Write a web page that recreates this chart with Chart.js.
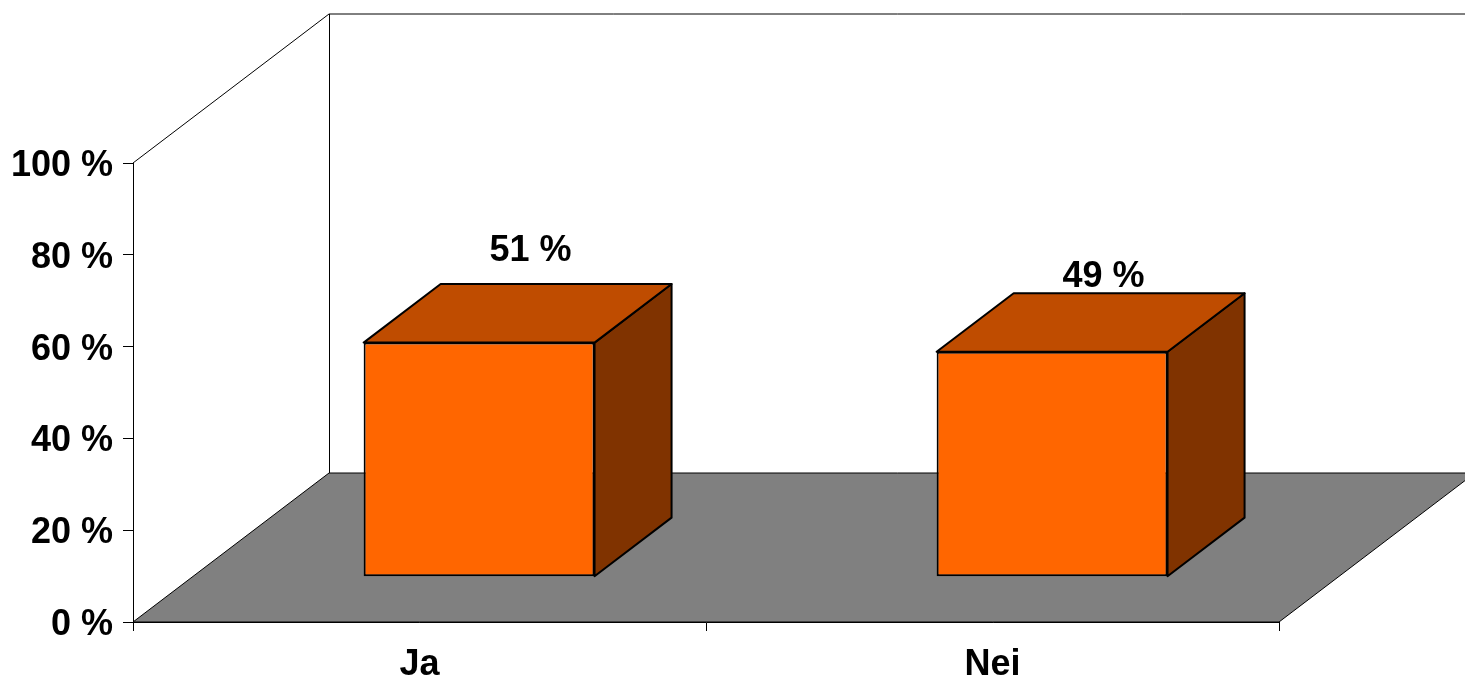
<!DOCTYPE html>
<html>
<head>
<meta charset="utf-8">
<script src="https://cdn.jsdelivr.net/npm/chart.js@4"></script>
<style>
  html, body { margin: 0; padding: 0; background: #fff; }
  canvas { display: block; }
</style>
</head>
<body>
<canvas id="chart" width="1465" height="680"></canvas>
<script>
const categories = ["Ja", "Nei"];
const values = [51, 49];
const tickStep = 20;
const yMax = 100;

// full floor depth in px, and where the bars sit inside it
const DX = 196, DY = -149;
const F0 = 0.304, F1 = 0.697;
const labelLift = [34, 17];

const FONT = { family: "'Liberation Sans', Arial, sans-serif", size: 36, weight: "bold" };

const box3d = {
    id: "box3d",
    beforeDraw(chart) {
        const { ctx, chartArea: a } = chart;
        const y = chart.scales.y;
        const top = y.getPixelForValue(yMax), bot = y.getPixelForValue(0);
        ctx.save();
        ctx.fillStyle = "#fff";
        ctx.fillRect(0, 0, chart.width, chart.height);
        ctx.strokeStyle = "#000";
        ctx.lineWidth = 1;
        // floor
        ctx.fillStyle = "#808080";
        ctx.beginPath();
        ctx.moveTo(a.left, bot);
        ctx.lineTo(a.left + DX, bot + DY);
        ctx.lineTo(a.right + DX, bot + DY);
        ctx.lineTo(a.right, bot);
        ctx.closePath();
        ctx.fill();
        ctx.stroke();
        // side + back wall outline
        ctx.beginPath();
        ctx.moveTo(a.left, top);
        ctx.lineTo(a.left + DX, top + DY);
        ctx.lineTo(a.right + DX, top + DY);
        ctx.moveTo(a.left + DX + 0.5, top + DY);
        ctx.lineTo(a.left + DX + 0.5, bot + DY);
        ctx.stroke();
        ctx.restore();
    },
    beforeDatasetsDraw(chart) {
        const ctx = chart.ctx;
        const meta = chart.getDatasetMeta(0);
        const fx = F0 * DX, fy = F0 * DY, bx = F1 * DX, by = F1 * DY;
        ctx.save();
        ctx.strokeStyle = "#000";
        ctx.lineWidth = 2;
        ctx.lineJoin = "round";
        meta.data.forEach(bar => {
            const l = bar.x - bar.width / 2, r = bar.x + bar.width / 2;
            // right side
            ctx.fillStyle = "#803300";
            ctx.beginPath();
            ctx.moveTo(r + fx, bar.y + fy);
            ctx.lineTo(r + bx, bar.y + by);
            ctx.lineTo(r + bx, bar.base + by);
            ctx.lineTo(r + fx, bar.base + fy);
            ctx.closePath();
            ctx.fill();
            ctx.stroke();
            // top
            ctx.fillStyle = "#BF4C00";
            ctx.beginPath();
            ctx.moveTo(l + fx, bar.y + fy);
            ctx.lineTo(l + bx, bar.y + by);
            ctx.lineTo(r + bx, bar.y + by);
            ctx.lineTo(r + fx, bar.y + fy);
            ctx.closePath();
            ctx.fill();
            ctx.stroke();
        });
        ctx.restore();
        ctx.save();
        ctx.translate(fx, fy);
    },
    afterDatasetsDraw(chart) {
        const ctx = chart.ctx;
        ctx.restore();
        const meta = chart.getDatasetMeta(0);
        ctx.save();
        ctx.fillStyle = "#000";
        ctx.font = `bold ${FONT.size}px ${FONT.family}`;
        ctx.textAlign = "center";
        ctx.textBaseline = "middle";
        meta.data.forEach((bar, i) => {
            const cx = bar.x + (F0 + F1) / 2 * DX + 13;
            const cy = bar.y + F1 * DY - labelLift[i] + 1;
            ctx.fillText(values[i] + " %", cx, cy);
        });
        ctx.restore();
    }
};

new Chart(document.getElementById("chart"), {
    type: "bar",
    data: {
        labels: categories,
        datasets: [{
            data: values,
            backgroundColor: "#FF6600",
            borderColor: "#000",
            borderWidth: 2,
            borderSkipped: false,
            categoryPercentage: 1,
            barPercentage: 0.403,
            clip: false
        }]
    },
    options: {
        responsive: false,
        devicePixelRatio: 1,
        animation: false,
        layout: { padding: { left: 0, top: 163, right: 186, bottom: 0 } },
        plugins: { legend: { display: false }, tooltip: { enabled: false } },
        scales: {
            x: {
                grid: { drawOnChartArea: false, tickLength: 9, color: "#000", offset: true },
                border: { color: "#000" },
                ticks: { color: "#000", font: FONT, padding: 12 },
                afterFit(s) { s.height = 58; }
            },
            y: {
                min: 0,
                max: yMax,
                grid: { drawOnChartArea: false, tickLength: 10, color: "#000" },
                border: { color: "#000" },
                ticks: { color: "#000", font: FONT, stepSize: tickStep, padding: 10, labelOffset: 3, callback: v => v + " %" },
                afterFit(s) { s.width = 133; }
            }
        }
    },
    plugins: [box3d]
});
</script>
</body>
</html>
